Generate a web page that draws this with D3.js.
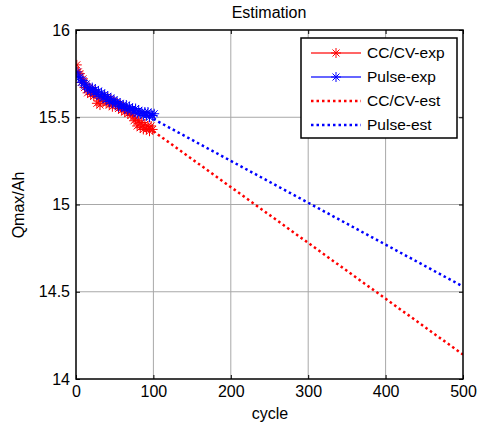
<!DOCTYPE html>
<html lang="en">
<head>
    <meta charset="UTF-8">
    <title>Estimation</title>
    <script src="https://d3js.org/d3.v7.min.js"></script>
    <style>
        body { margin: 0; background: #fff; }
        svg { display: block; font-family: "Liberation Sans", Arial, sans-serif; }
        .grid line { stroke: #a8a8a8; stroke-width: 1; }
        .tick-lbl { font-size: 16px; fill: #000; }
    </style>
</head>
<body>
<svg width="477" height="428"></svg>
<script>
    // experimental capacity, cycles 1..99 step 2 (CC/CV) and 1..101 (Pulse)
    const ccCycles = [1,3,5,7,9,11,13,15,17,19,21,23,25,27,29,31,33,35,37,39,41,43,45,47,49,
                      51,53,55,57,59,61,63,65,67,69,71,73,75,77,79,81,83,85,87,89,91,93,95,97,99];
    const ccExp = [15.80,15.76,15.75,15.70,15.72,15.67,15.69,15.64,15.67,15.63,15.66,15.62,15.64,15.58,15.61,
                   15.57,15.62,15.59,15.62,15.58,15.61,15.57,15.60,15.56,15.59,15.57,15.58,15.55,15.57,15.54,
                   15.56,15.53,15.55,15.52,15.54,15.51,15.52,15.48,15.49,15.45,15.48,15.44,15.47,15.43,15.46,
                   15.43,15.45,15.42,15.45,15.43];
    const pulseCycles = [1,3,5,7,9,11,13,15,17,19,21,23,25,27,29,31,33,35,37,39,41,43,45,47,49,
                         51,53,55,57,59,61,63,65,67,69,71,73,75,77,79,81,83,85,87,89,91,93,95,97,99,101];
    const pulseExp = [15.76,15.73,15.73,15.70,15.71,15.68,15.69,15.66,15.67,15.65,15.67,15.64,15.66,15.63,15.65,
                      15.62,15.64,15.61,15.63,15.60,15.62,15.59,15.61,15.58,15.60,15.58,15.59,15.56,15.58,15.56,
                      15.57,15.55,15.57,15.54,15.56,15.54,15.55,15.53,15.55,15.52,15.54,15.52,15.53,15.51,15.53,
                      15.51,15.53,15.50,15.52,15.51,15.52];

    // estimated trends
    const estCycles = [100, 500];
    const ccEst = [15.42, 14.14];
    const pulseEst = [15.49, 14.53];

    const xTicks = [0, 100, 200, 300, 400, 500];
    const yTicks = [14, 14.5, 15, 15.5, 16];
    const legendNames = ["CC/CV-exp", "Pulse-exp", "CC/CV-est", "Pulse-est"];

    const mLeft = 76, mRight = 463, mTop = 30, mBottom = 379;
    const svg = d3.select("svg");

    const x = d3.scaleLinear().domain([0, 500]).range([mLeft, mRight]);
    const y = d3.scaleLinear().domain([14, 16]).range([mBottom, mTop]);

    // grid
    const grid = svg.append("g").attr("class", "grid");
    grid.selectAll(".gx").data(xTicks.slice(1, -1)).enter().append("line")
        .attr("x1", d => x(d)).attr("x2", d => x(d)).attr("y1", mTop).attr("y2", mBottom);
    grid.selectAll(".gy").data(yTicks.slice(1, -1)).enter().append("line")
        .attr("x1", mLeft).attr("x2", mRight).attr("y1", d => y(d)).attr("y2", d => y(d));

    // axes with inward ticks
    const fmt = d3.format("");
    svg.append("g").attr("transform", `translate(0,${mBottom})`)
        .call(d3.axisBottom(x).tickValues(xTicks).tickSize(-4).tickPadding(7).tickFormat(fmt))
        .call(g => g.select(".domain").remove());
    svg.append("g").attr("transform", `translate(0,${mTop})`)
        .call(d3.axisTop(x).tickValues(xTicks).tickSize(-4).tickFormat(""))
        .call(g => g.select(".domain").remove());
    svg.append("g").attr("transform", `translate(${mLeft},0)`)
        .call(d3.axisLeft(y).tickValues(yTicks).tickSize(-4).tickPadding(6).tickFormat(fmt))
        .call(g => g.select(".domain").remove());
    svg.append("g").attr("transform", `translate(${mRight},0)`)
        .call(d3.axisRight(y).tickValues(yTicks).tickSize(-4).tickFormat(""))
        .call(g => g.select(".domain").remove());
    svg.selectAll(".tick text").attr("class", "tick-lbl");
    svg.selectAll("g[font-size]").attr("font-size", null).attr("font-family", null);
    svg.selectAll(".tick line").attr("stroke", "#000");

    svg.append("defs").append("clipPath").attr("id", "plot")
        .append("rect").attr("x", mLeft).attr("y", mTop).attr("width", mRight - mLeft).attr("height", mBottom - mTop);
    const plot = svg.append("g").attr("clip-path", "url(#plot)");

    const line = d3.line().x(d => x(d[0])).y(d => y(d[1]));

    function star(g, cx, cy, color) {
        const r = 5;
        const p = `M${cx - r},${cy}H${cx + r}M${cx},${cy - r}V${cy + r}` +
                  `M${cx - r * 0.7},${cy - r * 0.7}L${cx + r * 0.7},${cy + r * 0.7}` +
                  `M${cx - r * 0.7},${cy + r * 0.7}L${cx + r * 0.7},${cy - r * 0.7}`;
        g.append("path").attr("d", p).attr("stroke", color).attr("stroke-width", 1).attr("fill", "none");
    }

    const series = [
        { xs: ccCycles, ys: ccExp, color: "#ff0000" },
        { xs: pulseCycles, ys: pulseExp, color: "#0000ff" }
    ];
    series.forEach(s => {
        const pts = s.xs.map((c, i) => [c, s.ys[i]]);
        plot.append("path").attr("d", line(pts)).attr("fill", "none")
            .attr("stroke", s.color).attr("stroke-opacity", 0.6).attr("stroke-width", 1);
        const mg = plot.append("g");
        pts.forEach(p => star(mg, x(p[0]), y(p[1]), s.color));
    });

    [[ccEst, "#ff0000"], [pulseEst, "#0000ff"]].forEach(([vals, color]) => {
        const pts = estCycles.map((c, i) => [c, vals[i]]);
        plot.append("path").attr("d", line(pts)).attr("fill", "none")
            .attr("stroke", color).attr("stroke-width", 2.5).attr("stroke-dasharray", "2.5,3");
    });

    // box
    svg.append("rect").attr("x", mLeft).attr("y", mTop).attr("width", mRight - mLeft).attr("height", mBottom - mTop)
        .attr("fill", "none").attr("stroke", "#000").attr("stroke-width", 1.5);

    // labels
    svg.append("text").attr("x", 269).attr("y", 18).attr("text-anchor", "middle")
        .attr("font-size", 16).text("Estimation");
    svg.append("text").attr("x", 270).attr("y", 419).attr("text-anchor", "middle")
        .attr("font-size", 16).text("cycle");
    svg.append("text").attr("transform", "translate(24,205) rotate(-90)").attr("text-anchor", "middle")
        .attr("font-size", 16).text("Qmax/Ah");

    // legend
    const lg = svg.append("g");
    lg.append("rect").attr("x", 301).attr("y", 38).attr("width", 156).attr("height", 100)
        .attr("fill", "#fff").attr("stroke", "#000").attr("stroke-width", 1.5);
    const lys = [53, 77, 101, 125];
    legendNames.forEach((name, i) => {
        const ly = lys[i];
        const color = i % 2 === 0 ? "#ff0000" : "#0000ff";
        if (i < 2) {
            lg.append("line").attr("x1", 311).attr("x2", 361).attr("y1", ly).attr("y2", ly)
                .attr("stroke", color).attr("stroke-opacity", 0.6).attr("stroke-width", 2);
            star(lg, 336, ly, color);
        } else {
            lg.append("line").attr("x1", 311).attr("x2", 361).attr("y1", ly).attr("y2", ly)
                .attr("stroke", color).attr("stroke-width", 2.5).attr("stroke-dasharray", "2.5,3");
        }
        lg.append("text").attr("x", 367).attr("y", ly + 5).attr("font-size", 15.5).text(name);
    });
</script>
</body>
</html>
